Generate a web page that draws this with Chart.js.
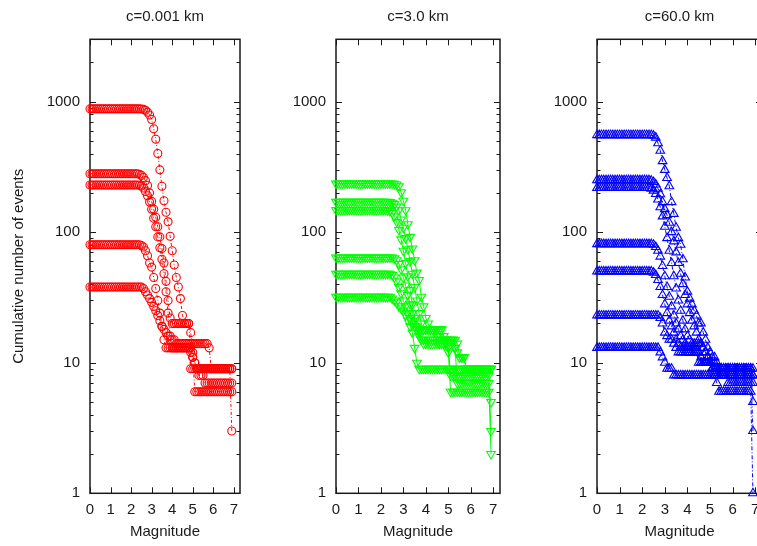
<!DOCTYPE html>
<html>
<head>
<meta charset="utf-8">
<script src="https://cdn.jsdelivr.net/npm/chart.js@4.4.0/dist/chart.umd.min.js"></script>
<style>
  html, body { margin: 0; padding: 0; background: #fff; overflow: hidden; }
  #wrap { position: relative; width: 757px; height: 546px; overflow: hidden; background: #fff; }
  canvas { position: absolute; top: 0; }
</style>
</head>
<body>
<div id="wrap">
  <canvas id="c1" width="250" height="546" style="left:0px"></canvas>
  <canvas id="c2" width="260" height="546" style="left:250px"></canvas>
  <canvas id="c3" width="262" height="546" style="left:510px"></canvas>
</div>
<script>
// magnitude bins (x)
const mags = [0.0,0.1,0.2,0.3,0.4,0.5,0.6,0.7,0.8,0.9,
  1.0,1.1,1.2,1.3,1.4,1.5,1.6,1.7,1.8,1.9,
  2.0,2.1,2.2,2.3,2.4,2.5,2.6,2.7,2.8,2.9,
  3.0,3.1,3.2,3.3,3.4,3.5,3.6,3.7,3.8,3.9,
  4.0,4.1,4.2,4.3,4.4,4.5,4.6,4.7,4.8,4.9,
  5.0,5.1,5.2,5.3,5.4,5.5,5.6,5.7,5.8,5.9,
  6.0,6.1,6.2,6.3,6.4,6.5,6.6,6.7,6.8,6.9];

const xTicks = [0, 1, 2, 3, 4, 5, 6, 7];
const yTicks = [1, 10, 100, 1000];
const titles = ['c=0.001 km', 'c=3.0 km', 'c=60.0 km'];

// c = 0.001 km
const red1 = [880,880,880,880,880,880,880,880,880,880,
  880,880,880,880,880,880,880,880,880,880,
  880,880,880,880,880,878,872,858,830,790,
  730,620,515,400,300,225,174,142,120,93,
  72,56,45,38,31,23,20,20,20,17,
  12,10,9,9,9,9,9,9,9,9,
  9,9,9,9,9,9,9,9,9,3];
const red2 = [280,280,280,280,280,280,280,280,280,280,
  280,280,280,280,280,280,280,280,280,280,
  280,280,280,280,278,272,262,248,228,200,
  172,150,130,110,92,75,58,42,30,22,
  20,20,20,20,20,20,20,20,20,13,
  11,6,6,6,6,6,6,6,6,6,
  6,6,6,6,6,6,6,6,6,6];
const red3 = [230,230,230,230,230,230,230,230,230,230,
  230,230,230,230,230,230,230,230,230,230,
  230,230,230,230,229,226,218,205,190,170,
  150,128,110,92,76,62,48,35,24,16,
  13,13,13,13,13,13,13,13,13,9,
  9,9,9,9,9,9,9,9,9,9,
  9,9,9,9,9,9,9,9,9,9];
const red4 = [80,80,80,80,80,80,80,80,80,80,
  80,80,80,80,80,80,80,80,80,80,
  80,80,80,80,80,79,77,72,66,58,
  54,45,37,30,24,19,15,13,13,13,
  13,13,13,13,13,13,13,13,13,12,
  11,10,9,8,8,8,7,7,7,7,
  7,7,7,7,7,7,7,7,7,7];
const red5 = [38,38,38,38,38,38,38,38,38,38,
  38,38,38,38,38,38,38,38,38,38,
  38,38,38,38,38,38,37,35,33,31,
  29,27,25,23,21,19,18,17,16,15,
  15,15,14,14,14,14,14,14,14,14,
  14,14,14,14,14,14,14,14,13,9,
  9,9,9,9,9,9,9,9,9,9];

// c = 3.0 km
const green1 = [236,236,236,236,236,236,236,236,236,236,
  236,236,236,236,236,236,236,236,236,236,
  236,236,236,236,236,236,235,232,225,202,
  174,147,115,92,75,61,49,43,32,27,
  22,20,18,18,18,18,18,18,15,15,
  15,15,15,15,14,11,11,11,9,9,
  9,9,9,9,9,9,9,9,9,9];
const green2 = [171,171,171,171,171,171,171,171,171,171,
  171,171,171,171,171,171,171,171,171,171,
  171,171,171,171,170,168,164,157,147,125,
  108,90,74,60,48,38,30,24,20,18,
  18,18,18,18,18,18,18,18,16,15,
  13,8,8,8,8,8,8,8,8,8,
  8,8,8,8,8,8,8,8,8,3];
const green3 = [148,148,148,148,148,148,148,148,148,148,
  148,148,148,148,148,148,148,148,148,148,
  148,148,148,147,145,140,132,120,104,88,
  72,58,46,36,28,22,18,16,15,14,
  14,14,14,14,14,14,14,14,14,14,
  12,6,6,6,6,6,6,6,6,6,
  6,6,6,6,6,6,6,6,6,5];
const green4 = [64,64,64,64,64,64,64,64,64,64,
  64,64,64,64,64,64,64,64,64,64,
  64,64,64,64,64,64,63,61,57,52,
  45,39,33,28,24,21,19,17,15,15,
  15,15,15,15,15,15,15,15,15,15,
  15,15,15,13,7,7,7,7,7,7,
  7,7,7,7,7,7,7,7,7,2];
const green5 = [48,48,48,48,48,48,48,48,48,48,
  48,48,48,48,48,48,48,48,48,48,
  48,48,48,48,48,47,45,42,38,34,
  30,27,24,22,20,19,18,18,18,18,
  18,18,18,18,18,16,14,14,14,14,
  14,14,14,13,12,11,11,11,9,9,
  9,9,9,9,9,9,9,9,9,9];
const green6 = [32,32,32,32,32,32,32,32,32,32,
  32,32,32,32,32,32,32,32,32,32,
  32,32,32,32,32,31,30,29,27,26,
  25,23,21,19,17,13,10,9,9,9,
  9,9,9,9,9,9,9,9,9,9,
  9,9,9,9,9,9,9,9,9,9,
  9,9,9,9,9,9,9,9,9,9];

// c = 60.0 km
const blue1 = [554,554,554,554,554,554,554,554,554,554,
  554,554,554,554,554,554,554,554,554,554,
  554,554,554,554,554,548,530,480,420,350,
  300,260,225,170,138,108,90,80,62,45,
  35,31,28,25,23,20,20,17,15,13,
  12,11,11,10,9,9,9,9,9,9,
  9,9,9,9,9,9,9,9,9,5];
const blue2 = [250,250,250,250,250,250,250,250,250,250,
  250,250,250,250,250,250,250,250,250,250,
  250,250,250,250,248,242,232,215,195,170,
  150,135,118,100,85,70,58,48,40,33,
  28,24,21,19,17,15,14,13,12,11,
  10,9,9,9,9,9,9,9,9,9,
  9,9,9,9,9,9,9,9,9,3];
const blue3 = [218,218,218,218,218,218,218,218,218,218,
  218,218,218,218,218,218,218,218,218,218,
  218,218,218,218,215,208,196,178,155,132,
  110,90,72,58,46,37,30,25,21,18,
  16,15,14,14,14,14,14,13,12,11,
  10,9,8,8,8,8,8,8,7,7,
  7,7,7,7,7,7,7,7,7,7];
const blue4 = [81,81,81,81,81,81,81,81,81,81,
  81,81,81,81,81,81,81,81,81,81,
  81,81,81,81,81,80,77,72,65,55,
  46,38,32,27,23,20,18,16,15,14,
  13,13,13,13,13,12,11,10,10,10,
  10,9,8,7,6,6,6,6,6,6,
  6,6,6,6,6,6,6,6,6,1];
const blue5 = [50,50,50,50,50,50,50,50,50,50,
  50,50,50,50,50,50,50,50,50,50,
  50,50,50,50,50,49,47,43,38,33,
  28,24,21,19,17,15,14,13,13,13,
  13,12,12,12,12,12,10,10,10,10,
  10,9,9,9,9,9,9,9,9,9,
  9,9,9,9,9,9,9,9,9,9];
const blue6 = [23,23,23,23,23,23,23,23,23,23,
  23,23,23,23,23,23,23,23,23,23,
  23,23,23,23,23,23,23,23,22,20,
  17,16,15,15,14,13,12,12,12,12,
  12,12,12,12,12,10,10,10,10,10,
  10,10,10,9,8,8,8,8,8,8,
  8,8,8,8,8,8,8,8,8,8];
const blue7 = [13,13,13,13,13,13,13,13,13,13,
  13,13,13,13,13,13,13,13,13,13,
  13,13,13,13,13,13,13,13,12,11,
  10,9,9,9,8,8,8,8,8,8,
  8,8,8,8,8,8,8,8,8,8,
  8,8,8,8,8,8,8,8,8,8,
  8,8,8,8,8,8,8,8,8,8];

const FONT = { family: "'Liberation Sans', Arial, Helvetica, sans-serif", size: 15, weight: 'normal' };
const TEXT = '#1a1a1a';

// gnuplot-like border with inward ticks on all four sides
const frameTicks = {
  id: 'frameTicks',
  beforeDatasetsDraw(chart) {
    const { ctx, chartArea: a, scales: { x, y } } = chart;
    ctx.save();
    ctx.strokeStyle = '#1a1a1a';
    ctx.lineWidth = 1;
    ctx.beginPath();
    xTicks.forEach(v => {
      const px = Math.round(x.getPixelForValue(v)) + 0.5;
      ctx.moveTo(px, a.bottom); ctx.lineTo(px, a.bottom - 6);
      ctx.moveTo(px, a.top); ctx.lineTo(px, a.top + 6);
    });
    yTicks.forEach(d => {
      for (let k = 1; k <= 9; k++) {
        const v = d * k;
        if (v > y.max) break;
        const len = k === 1 ? 6 : 3.5;
        const py = Math.round(y.getPixelForValue(v)) + 0.5;
        ctx.moveTo(a.left, py); ctx.lineTo(a.left + len, py);
        ctx.moveTo(a.right, py); ctx.lineTo(a.right - len, py);
      }
    });
    ctx.stroke();
    ctx.lineWidth = 1.5;
    ctx.strokeRect(a.left, a.top, a.right - a.left, a.bottom - a.top);
    ctx.restore();
  }
};

function series(vals, color, style, rot, radius, dash) {
  return {
    data: mags.map((m, i) => ({ x: m, y: vals[i] })),
    borderColor: color,
    borderWidth: 1,
    borderDash: dash,
    pointStyle: style,
    rotation: rot,
    pointRadius: radius,
    pointBorderColor: color,
    pointBackgroundColor: 'rgba(0,0,0,0)',
    pointBorderWidth: 1.1,
    tension: 0,
    fill: false,
    clip: false
  };
}

function makePanel(id, title, yWidth, datasets, showYTitle) {
  new Chart(document.getElementById(id), {
    type: 'line',
    data: { datasets },
    plugins: [frameTicks],
    options: {
      responsive: false,
      animation: false,
      devicePixelRatio: 1,
      layout: { padding: { left: 0, right: 10, top: 0, bottom: 0 } },
      plugins: {
        legend: { display: false },
        tooltip: { enabled: false },
        title: {
          display: true, text: title, font: FONT, color: TEXT,
          fullSize: false, padding: { top: 8, bottom: 13.3 }
        }
      },
      scales: {
        x: {
          type: 'linear', min: 0, max: 7.3,
          afterBuildTicks: s => { s.ticks = xTicks.map(v => ({ value: v })); },
          afterFit: s => { s.height = 52.7; },
          grid: { display: false, drawTicks: false },
          border: { display: false },
          ticks: { font: FONT, color: TEXT, padding: 8, maxRotation: 0, autoSkip: false },
          title: { display: true, text: 'Magnitude', font: FONT, color: TEXT, padding: { top: 0, bottom: 5.3 } }
        },
        y: {
          type: 'logarithmic', min: 1, max: 3000,
          afterBuildTicks: s => { s.ticks = yTicks.map(v => ({ value: v })); },
          afterFit: s => { s.width = yWidth; },
          grid: { display: false, drawTicks: false },
          border: { display: false },
          ticks: { font: FONT, color: TEXT, padding: 10, autoSkip: false, callback: v => String(v) },
          title: {
            display: showYTitle, text: 'Cumulative number of events', font: FONT, color: TEXT,
            padding: { top: 10, bottom: 0 }
          }
        }
      }
    }
  });
}

const RED = '#ff0000', GREEN = '#00ff00', BLUE = '#0000ff';
const redDash = [3, 2, 1, 2], blueDash = [4, 2, 1, 2];

makePanel('c1', titles[0], 90, [red1, red2, red3, red4, red5].map(v =>
  series(v, RED, 'circle', 0, 4, redDash)), true);
makePanel('c2', titles[1], 86, [green1, green2, green3, green4, green5, green6].map(v =>
  series(v, GREEN, 'triangle', 180, 5, [])), false);
makePanel('c3', titles[2], 87, [blue1, blue2, blue3, blue4, blue5, blue6, blue7].map(v =>
  series(v, BLUE, 'triangle', 0, 5, blueDash)), false);
</script>
</body>
</html>
